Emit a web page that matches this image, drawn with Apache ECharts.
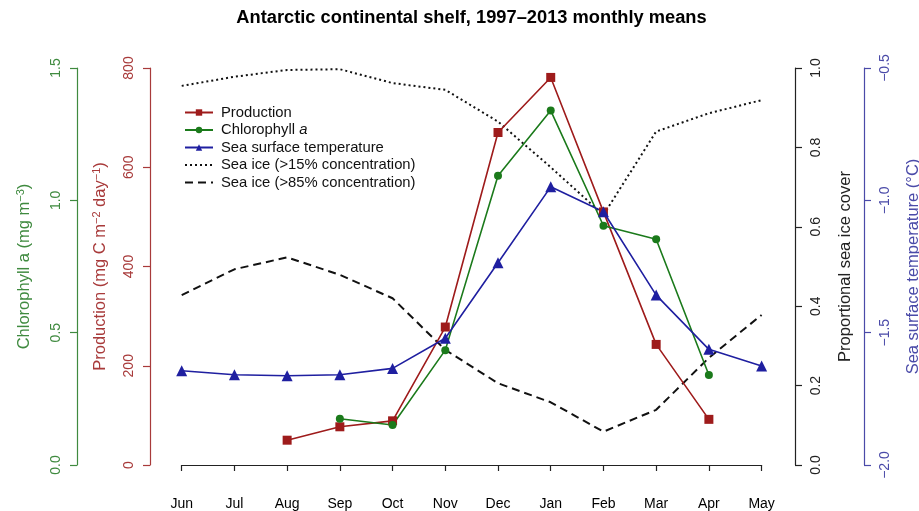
<!DOCTYPE html>
<html>
<head>
<meta charset="utf-8">
<script src="https://cdn.jsdelivr.net/npm/echarts@6/dist/echarts.min.js"></script>
<style>
html,body{margin:0;padding:0;background:#fff;}
#c{width:919px;height:511px;}
</style>
</head>
<body>
<div id="c"></div>
<script>
const months = ['Jun','Jul','Aug','Sep','Oct','Nov','Dec','Jan','Feb','Mar','Apr','May'];
const production = [null,null,50,77,89,278,670,781,510,243,92,null];
const chlorophyll = [null,null,null,0.175,0.151,0.434,1.093,1.339,0.904,0.853,0.34,null];
const sst = [-1.644,-1.659,-1.663,-1.659,-1.635,-1.521,-1.236,-0.949,-1.043,-1.358,-1.563,-1.626];
const ice15 = [0.955,0.978,0.995,0.997,0.962,0.945,0.865,0.75,0.63,0.84,0.886,0.919];
const ice85 = [0.428,0.493,0.523,0.479,0.42,0.29,0.206,0.158,0.084,0.139,0.27,0.378];
const prodTicks = [0,200,400,600,800];
const chlTicks = [0,0.5,1.0,1.5];
const iceTicks = [0,0.2,0.4,0.6,0.8,1.0];
const sstTicks = [-2.0,-1.5,-1.0,-0.5];

const FONT = 'Liberation Sans';
const RED = '#9e1b1b', GREEN = '#1b7a1b', BLUE = '#1f1fa0';
const RED_AX = '#a83a3a', GREEN_AX = '#3f8a3f', BLUE_AX = '#4a4aa8', BLACK = '#222';

function fmtMinus(v, d){ return v.toFixed(d).replace('-', '\u2212'); }

function yAx(opts){
  const c = opts.color;
  return {
    type:'value', position:opts.position, offset:opts.offset,
    min:opts.ticks[0], max:opts.ticks[opts.ticks.length-1],
    interval:opts.ticks[1]-opts.ticks[0],
    name:opts.name, nameLocation:'middle', nameGap:opts.nameGap,
    nameTextStyle:{color:c, fontFamily:FONT, fontSize:16.5, rich:opts.rich||{}},
    axisLine:{show:true, lineStyle:{color:c, width:1.2}},
    axisTick:{show:true, length:7, lineStyle:{color:c, width:1.2}},
    axisLabel:{color:c, fontFamily:FONT, fontSize:14, rotate:90, margin:14,
      formatter:v=>fmtMinus(v, opts.dec)},
    splitLine:{show:false}
  };
}

const chart = echarts.init(document.getElementById('c'));
chart.setOption({
  backgroundColor:'#fff',
  animation:false,
  title:{text:'Antarctic continental shelf, 1997\u20132013 monthly means', left:466.5, top:4, textAlign:'center',
    textStyle:{fontFamily:FONT, fontSize:18.3, fontWeight:'bold', color:'#000'}},
  grid:{left:181.7, right:157.4, top:68, bottom:46, outerBoundsMode:'none', containLabel:false},
  legend:{
    orient:'vertical', left:179, top:100, itemWidth:28, itemHeight:8, itemGap:2.5,
    textStyle:{fontFamily:FONT, fontSize:14.8, color:'#111', padding:[0,0,0,3],
      rich:{i:{fontStyle:'italic', fontFamily:FONT, fontSize:14.8, color:'#111'}}},
    formatter:n=> n==='Chlorophyll a' ? 'Chlorophyll {i|a}' : n,
    data:['Production','Chlorophyll a','Sea surface temperature',
      {name:'Sea ice (>15% concentration)', itemStyle:{opacity:0}},
      {name:'Sea ice (>85% concentration)', itemStyle:{opacity:0}}]
  },
  xAxis:{type:'category', data:months, boundaryGap:false, offset:16,
    axisLine:{show:true, lineStyle:{color:BLACK, width:1.2}},
    axisTick:{show:true, length:6, lineStyle:{color:BLACK, width:1.2}},
    axisLabel:{color:'#000', fontFamily:FONT, fontSize:14, margin:16},
    splitLine:{show:false}},
  yAxis:[
    yAx({position:'left', offset:31.7, ticks:prodTicks, dec:0, color:RED_AX, nameGap:41,
      name:'Production (mg C m{s|\u22122} day{s|\u22121})',
      rich:{s:{fontSize:11, verticalAlign:'top', color:RED_AX, fontFamily:FONT, padding:[0,0,7,0]}}}),
    yAx({position:'left', offset:104.7, ticks:chlTicks, dec:1, color:GREEN_AX, nameGap:44,
      name:'Chlorophyll a (mg m{s|\u22123})',
      rich:{s:{fontSize:11, verticalAlign:'top', color:GREEN_AX, fontFamily:FONT, padding:[0,0,7,0]}}}),
    yAx({position:'right', offset:33.4, ticks:iceTicks, dec:1, color:BLACK, nameGap:42,
      name:'Proportional sea ice cover'}),
    yAx({position:'right', offset:102.4, ticks:sstTicks, dec:1, color:BLUE_AX, nameGap:41,
      name:'Sea surface temperature (\u00B0C)'})
  ],
  series:[
    {name:'Sea ice (>15% concentration)', type:'line', yAxisIndex:2, data:ice15, symbol:'none',
      lineStyle:{color:'#111', width:2, type:[2,3]}, itemStyle:{color:'#111'}},
    {name:'Sea ice (>85% concentration)', type:'line', yAxisIndex:2, data:ice85, symbol:'none',
      lineStyle:{color:'#111', width:2, type:[8,5]}, itemStyle:{color:'#111'}},
    {name:'Production', type:'line', yAxisIndex:0, data:production, symbol:'rect', symbolSize:9,
      lineStyle:{color:RED, width:1.6}, itemStyle:{color:RED}},
    {name:'Chlorophyll a', type:'line', yAxisIndex:1, data:chlorophyll, symbol:'circle', symbolSize:8,
      lineStyle:{color:GREEN, width:1.6}, itemStyle:{color:GREEN}},
    {name:'Sea surface temperature', type:'line', yAxisIndex:3, data:sst, symbol:'triangle', symbolSize:11,
      lineStyle:{color:BLUE, width:1.6}, itemStyle:{color:BLUE}}
  ]
});
</script>
</body>
</html>
